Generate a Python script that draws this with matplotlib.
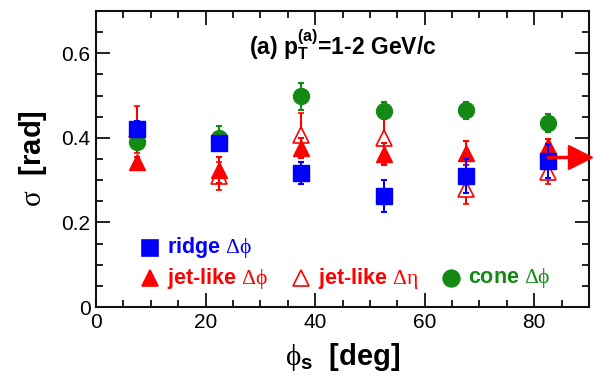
import matplotlib
matplotlib.use("Agg")
import matplotlib.pyplot as plt
from matplotlib.ticker import MultipleLocator

# data
phiS = [7.5, 22.5, 37.5, 52.5, 67.5, 82.5]

ridge = [0.421, 0.387, 0.316, 0.263, 0.310, 0.346]
ridgeErr = [0.020, 0.012, 0.026, 0.038, 0.040, 0.040]

jetPhi = [0.344, 0.324, 0.376, 0.362, 0.364, 0.381]
jetPhiErr = [0.010, 0.030, 0.023, 0.027, 0.029, 0.017]

jetEta = [0.420, 0.310, 0.407, 0.399, 0.279, 0.320]
jetEtaErr = [0.056, 0.033, 0.051, 0.060, 0.035, 0.029]

cone = [0.391, 0.399, 0.498, 0.464, 0.465, 0.435]
coneErr = [0.012, 0.028, 0.032, 0.020, 0.020, 0.021]

arrowX = [82.5, 88.4]
arrowY = 0.354

blue = "#0000ff"
red = "#ff0000"
green = "#148a14"

plt.rcParams["font.family"] = ["Liberation Sans", "DejaVu Sans"]
plt.rcParams["mathtext.fontset"] = "custom"
plt.rcParams["mathtext.rm"] = "Liberation Serif"
plt.rcParams["mathtext.it"] = "Liberation Serif"
plt.rcParams["mathtext.bf"] = "Liberation Sans:bold"
plt.rcParams["mathtext.sf"] = "Liberation Sans:bold"

fig = plt.figure(figsize=(6, 3.75), dpi=100)
ax = fig.add_axes([0.16, 0.1813, 0.8217, 0.7894])

errStyle = dict(linestyle="none", elinewidth=1.5, capsize=2, capthick=1.5)

ax.errorbar(phiS, jetEta, yerr=jetEtaErr, marker="^", ms=12, mfc="white",
            mec=red, mew=1.2, color=red, zorder=2, **errStyle)
ax.errorbar(phiS, jetPhi, yerr=jetPhiErr, marker="^", ms=12, color=red,
            zorder=3, **errStyle)
ax.errorbar(phiS, cone, yerr=coneErr, marker="o", ms=11.5, color=green,
            zorder=4, **errStyle)
ax.errorbar(phiS, ridge, yerr=ridgeErr, marker="s", ms=11.5, color=blue,
            zorder=5, **errStyle)

# arrow
ax.plot(arrowX, [arrowY, arrowY], color=red, lw=2.5, zorder=6, clip_on=False)
ax.plot(arrowX[1], arrowY, marker=">", ms=17, color=red, zorder=6, clip_on=False)

ax.set_xlim(0, 90)
ax.set_ylim(0, 0.7)
ax.xaxis.set_major_locator(MultipleLocator(20))
ax.xaxis.set_minor_locator(MultipleLocator(5))
ax.yaxis.set_major_locator(MultipleLocator(0.2))
ax.yaxis.set_minor_locator(MultipleLocator(0.05))
ax.set_xticks([0, 20, 40, 60, 80])
ax.set_xticklabels(["0", "20", "40", "60", "80"])
ax.set_yticks([0, 0.2, 0.4, 0.6])
ax.set_yticklabels(["0", "0.2", "0.4", "0.6"])
ax.tick_params(which="both", direction="in", top=True, right=True,
               labelsize=15, width=1.3, color="#111111")
ax.tick_params(which="major", length=10, pad=4)
ax.tick_params(which="minor", length=5)
for s in ax.spines.values():
    s.set_linewidth(1.5)
    s.set_color("#111111")

ax.set_ylabel(r"$\sigma$  [rad]", fontsize=21, fontweight="bold", labelpad=9)
ax.set_xlabel(r"$\phi_{\mathsf{s}}$  [deg]", fontsize=21, fontweight="bold", labelpad=7)

ax.text(0.5, 0.885, r"(a) p$_{\mathsf{T}}^{\mathsf{(a)}}$=1-2 GeV/c",
        transform=ax.transAxes, ha="center", va="center", fontsize=16.5,
        fontweight="bold")

# legend by hand
ly1 = 0.2
ly2 = 0.097
def legItem(xm, y, marker, mfc, mec, label, color):
    ax.plot([xm], [y], marker=marker, ms=12, mfc=mfc, mec=mec, mew=1.2,
            transform=ax.transAxes, clip_on=False)
    ax.text(xm + 0.035, y, label, transform=ax.transAxes, ha="left",
            va="center", fontsize=15.5, fontweight="bold", color=color)

legItem(0.11, ly1, "s", blue, blue, r"ridge $\Delta\phi$", blue)
legItem(0.11, ly2, "^", red, red, r"jet-like $\Delta\phi$", red)
legItem(0.415, ly2, "^", "white", red, r"jet-like $\Delta\eta$", red)
legItem(0.72, ly2, "o", green, green, r"cone $\Delta\phi$", green)

plt.savefig("out.png", dpi=100)
